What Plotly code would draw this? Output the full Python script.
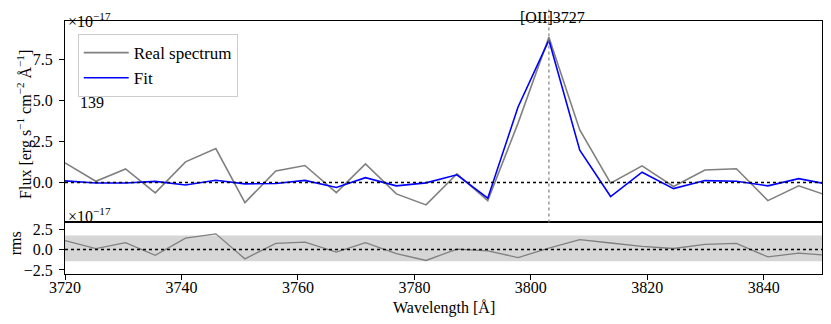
import plotly.graph_objects as go
from plotly.subplots import make_subplots

# spectrum around [OII]3727, flux in units of 1e-17 erg/s/cm2/A
wave = [3720.0, 3725.3, 3730.4, 3735.5, 3740.7, 3745.9, 3750.9, 3756.2, 3761.2,
        3766.6, 3771.6, 3776.9, 3782.0, 3787.3, 3792.6, 3797.8, 3803.1, 3808.4,
        3813.7, 3819.1, 3824.5, 3829.9, 3835.3, 3840.7, 3846.0, 3851.4]
real = [1.20, 0.08, 0.83, -0.63, 1.26, 2.07, -1.22, 0.71, 1.04, -0.61, 1.14, -0.69,
        -1.36, 0.53, -1.10, 3.62, 8.85, 3.20, -0.04, 1.02, -0.24, 0.77, 0.84, -1.10,
        -0.20, -0.85]
fit = [0.10, -0.03, -0.03, 0.07, -0.15, 0.14, -0.08, -0.06, 0.13, -0.30, 0.30, -0.20,
       -0.02, 0.47, -0.95, 4.60, 8.68, 1.97, -0.85, 0.63, -0.37, 0.12, 0.08, -0.20,
       0.24, -0.13]
rms_lo, rms_hi = -1.44, 1.72
line_name = "[OII]3727"
line_wave = 3803.1
obj_id = "139"

resid = [r - f for r, f in zip(real, fit)]

FONT = "Liberation Serif"
split = 0.2037

fig = make_subplots(rows=2, cols=1, shared_xaxes=True, vertical_spacing=0)
fig.add_trace(go.Scatter(x=wave, y=real, mode="lines", name="Real spectrum",
                         line=dict(color="#808080", width=1.6)), row=1, col=1)
fig.add_trace(go.Scatter(x=wave, y=fit, mode="lines", name="Fit",
                         line=dict(color="#0000ff", width=1.6)), row=1, col=1)
fig.add_trace(go.Scatter(x=wave, y=resid, mode="lines", showlegend=False,
                         line=dict(color="#808080", width=1.3)), row=2, col=1)

# rms band and zero lines
fig.add_shape(type="rect", xref="x2 domain", yref="y2", x0=0, x1=1, y0=rms_lo, y1=rms_hi,
              fillcolor="#d6d6d6", line=dict(width=0), layer="below")
for yr, xr in [("y", "x domain"), ("y2", "x2 domain")]:
    fig.add_shape(type="line", xref=xr, yref=yr, x0=0, x1=1, y0=0, y1=0,
                  line=dict(color="black", width=1.5, dash="dot"))
fig.add_shape(type="line", xref="x", yref="paper", x0=line_wave, x1=line_wave,
              y0=split, y1=1.06, line=dict(color="#808080", width=1.2, dash="dot"))

axis_common = dict(showline=True, linecolor="black", linewidth=1.2, mirror=True,
                   ticks="outside", ticklen=5, tickcolor="black", showgrid=False,
                   zeroline=False, tickfont=dict(family=FONT, size=16, color="black"))
fig.update_xaxes(range=[3720, 3850], **axis_common)
fig.update_xaxes(showticklabels=False, ticks="", row=1, col=1)
fig.update_xaxes(tickvals=[3720, 3740, 3760, 3780, 3800, 3820, 3840],
                 ticklabelstandoff=-6, row=2, col=1)
fig.update_yaxes(ticklabelstandoff=3, **axis_common)
fig.update_yaxes(range=[-2.43, 9.84], domain=[split, 1], tickvals=[0, 2.5, 5, 7.5],
                 tickformat=".1f", row=1, col=1)
fig.update_yaxes(range=[-3.0, 3.33], domain=[0, split], tickvals=[-2.5, 0, 2.5],
                 tickformat=".1f", row=2, col=1)

txt = dict(family=FONT, size=16, color="black")
ann = [
    dict(text="×10<sup>−17</sup>", x=0.0013, y=1.0527, xanchor="left", yanchor="top"),
    dict(text="×10<sup>−17</sup>", x=0.0013, y=0.2326, xanchor="left", yanchor="middle"),
    dict(text=obj_id, x=0.0172, y=0.6763, xanchor="left", yanchor="middle"),
    dict(text="Flux [erg s<sup>−1</sup> cm<sup>−2</sup> Å<sup>−1</sup>]", x=-0.0529,
         y=0.593, textangle=-90, xanchor="center", yanchor="middle"),
    dict(text="rms", x=-0.066, y=0.1216, textangle=-90, xanchor="center",
         yanchor="middle"),
    dict(text="Wavelength [Å]", x=0.5, y=-0.136, xanchor="center", yanchor="middle"),
]
for a in ann:
    fig.add_annotation(xref="paper", yref="paper", showarrow=False, font=txt, **a)
fig.add_annotation(text=line_name, xref="x", yref="paper", x=line_wave, xshift=4,
                   y=1.0527, yanchor="top", showarrow=False, font=txt, borderpad=0)

# page body has an 8px margin, so the figure is 8px smaller and shifted
fig.update_layout(
    width=823, height=316,
    margin=dict(l=57, r=9, t=13, b=50),
    plot_bgcolor="white", paper_bgcolor="white",
    font=txt,
    legend=dict(x=0.0168, y=0.9485, xanchor="left", yanchor="top",
                bgcolor="rgba(255,255,255,0.8)", bordercolor="#cccccc", borderwidth=1,
                font=dict(family=FONT, size=17, color="black"), itemwidth=45),
)

fig.write_html("out.html")
